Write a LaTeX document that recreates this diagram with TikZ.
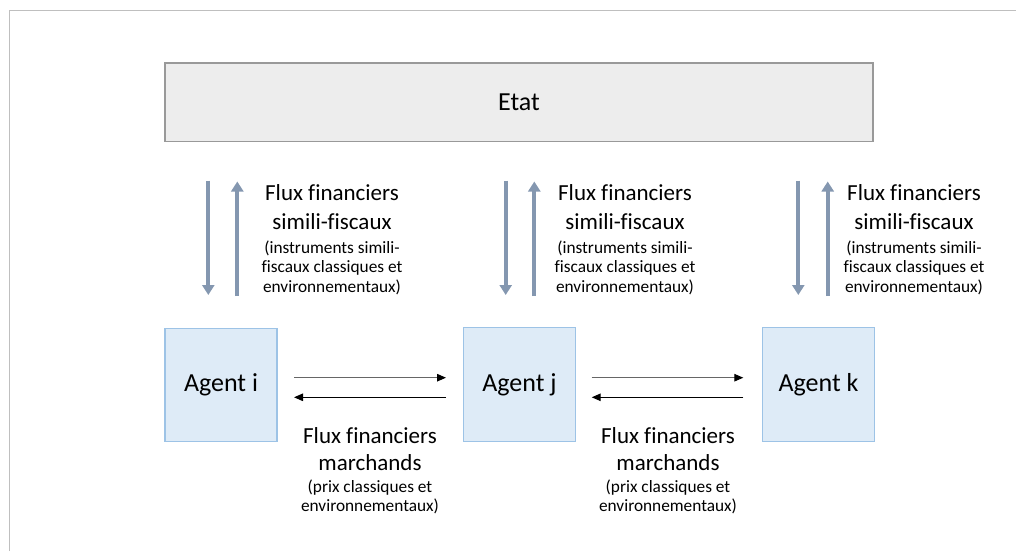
\documentclass[tikz,border=0pt]{standalone}
\usepackage{fontspec}
\setmainfont{Carlito}[Ligatures=NoCommon]
\usetikzlibrary{arrows.meta}
\definecolor{framegray}{HTML}{BFBFBF}
\definecolor{etatfill}{HTML}{EDEDED}
\definecolor{etatdraw}{HTML}{999999}
\definecolor{agentfill}{HTML}{DEEBF7}
\definecolor{agentdraw}{HTML}{9DC3E6}
\definecolor{flowblue}{HTML}{8497B0}
\tikzset{
  framestyle/.style={draw=framegray,line width=1.5pt},
  etatbox/.style={draw=etatdraw,fill=etatfill,line width=1.3pt,minimum width=708pt,minimum height=78.5pt,inner sep=0pt,font=\fontsize{26}{31}\selectfont},
  agentbox/.style={draw=agentdraw,fill=agentfill,line width=1.2pt,minimum width=112pt,minimum height=113.4pt,inner sep=0pt,text height=18.5pt,text depth=5.5pt,font=\fontsize{26}{31}\selectfont},
  bigline/.style={anchor=base,inner sep=0pt,font=\fontsize{23}{28}\selectfont},
  smallline/.style={anchor=base,inner sep=0pt,font=\fontsize{17.3}{21}\selectfont},
  vflow/.style={draw=flowblue,line width=4pt,-{Triangle[width=12pt,length=10pt]}},
  hflow/.style={draw=black,line width=1.1pt,-{Triangle[width=7.5pt,length=9pt,color=black]}},
}
\begin{document}
\begin{tikzpicture}[x=1pt,y=-1pt]
\useasboundingbox (0,0) rectangle (1016,551);
% frame
\coordinate (fbl) at (9.5,551);
\coordinate (ftl) at (9.5,10.5);
\coordinate (ftr) at (1016,10.5);
\draw[framestyle] (fbl) -- (ftl) -- (ftr);
% boxes
\node[etatbox] (etat) at (519,102.25) {Etat};
\node[agentbox] (ai) at (221,385) {Agent i};
\node[agentbox] (aj) at (519.5,384.5) {Agent j};
\node[agentbox] (ak) at (818.5,384.5) {Agent k};
% vertical flows
\foreach \n/\d/\u in {1/208.3/237.3, 2/505.7/534.3, 3/798.3/827.7}{
  \coordinate (d\n s) at (\d,180.7);
  \coordinate (d\n e) at (\d,295);
  \coordinate (u\n s) at (\u,296);
  \coordinate (u\n e) at (\u,181.5);
  \draw[vflow] (d\n s) -- (d\n e);
  \draw[vflow] (u\n s) -- (u\n e);
}
% top labels
\foreach \n/\x in {1/332, 2/625, 3/914}{
  \node[bigline] (t\n a) at (\x,200.5) {Flux financiers};
  \node[bigline] (t\n b) at (\x,229.5) {simili-fiscaux};
  \node[smallline] (t\n c) at (\x,253) {(instruments simili-};
  \node[smallline] (t\n d) at (\x,272.5) {fiscaux classiques et};
  \node[smallline] (t\n e) at (\x,292) {environnementaux)};
}
% horizontal flows
\foreach \n/\a/\b in {1/294/446, 2/591.7/743.3}{
  \coordinate (h\n l) at (\a,377.7);
  \coordinate (h\n r) at (\b,377.7);
  \coordinate (g\n r) at (\b,397.3);
  \coordinate (g\n l) at (\a,397.3);
  \draw[hflow,draw=black!60] (h\n l) -- (h\n r);
  \draw[hflow] (g\n r) -- (g\n l);
}
% bottom labels
\foreach \n/\x in {1/370, 2/668}{
  \node[bigline] (b\n a) at (\x,443.3) {Flux financiers};
  \node[bigline] (b\n b) at (\x,470.7) {marchands};
  \node[smallline] (b\n c) at (\x,492.3) {(prix classiques et};
  \node[smallline] (b\n d) at (\x,511.7) {environnementaux)};
}
\end{tikzpicture}
\end{document}
